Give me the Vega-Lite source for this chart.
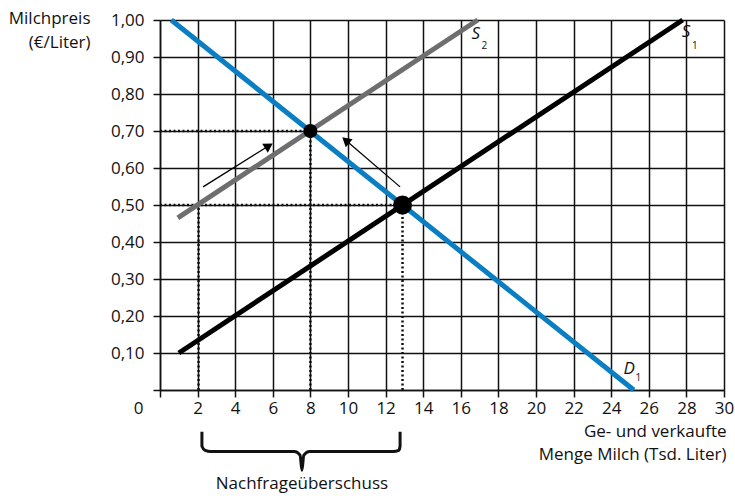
{
  "$schema": "https://vega.github.io/schema/vega-lite/v6.json",
  "width": 564,
  "height": 370,
  "autosize": {"type": "none"},
  "padding": {"left": 160, "top": 20, "right": 11, "bottom": 106},
  "background": "white",
  "config": {
    "view": {"stroke": null},
    "font": "Open Sans",
    "axis": {
      "grid": true,
      "gridColor": "#111111",
      "gridWidth": 1.5,
      "gridOpacity": 1,
      "domainColor": "#111111",
      "domainWidth": 1.5,
      "tickColor": "#111111",
      "tickWidth": 1.5,
      "tickSize": 7,
      "labelFont": "Open Sans",
      "labelFontSize": 17,
      "labelColor": "#111111",
      "titleFont": "Open Sans",
      "titleFontSize": 17,
      "titleFontWeight": "normal",
      "titleColor": "#111111"
    }
  },
  "datasets": {
    "curves": [
      {"s": "D1", "q": 0.6, "p": 1.0},
      {"s": "D1", "q": 25.2, "p": 0.0},
      {"s": "S1", "q": 1.0, "p": 0.1},
      {"s": "S1", "q": 27.8, "p": 1.0},
      {"s": "S2", "q": 0.95, "p": 0.465},
      {"s": "S2", "q": 16.9, "p": 1.0}
    ],
    "dots": [
      {"seg": "h70", "q": 0, "p": 0.7},
      {"seg": "h70", "q": 8, "p": 0.7},
      {"seg": "h50", "q": 0, "p": 0.5},
      {"seg": "h50", "q": 12.9, "p": 0.5},
      {"seg": "v2", "q": 2.05, "p": 0},
      {"seg": "v2", "q": 2.05, "p": 0.5},
      {"seg": "v8", "q": 8, "p": 0},
      {"seg": "v8", "q": 8, "p": 0.7},
      {"seg": "v13", "q": 12.9, "p": 0},
      {"seg": "v13", "q": 12.9, "p": 0.5}
    ],
    "arrows": [
      {"a": "A1", "q": 2.29, "p": 0.549},
      {"a": "A1", "q": 5.79, "p": 0.66},
      {"a": "A2", "q": 12.77, "p": 0.549},
      {"a": "A2", "q": 9.88, "p": 0.675}
    ],
    "eq": [
      {"e": "E1", "q": 12.9, "p": 0.5},
      {"e": "E2", "q": 8, "p": 0.7}
    ],
    "brace": [
      {"o": 1, "q": 2.23, "p": -0.113},
      {"o": 2, "q": 2.23, "p": -0.152},
      {"o": 3, "q": 2.4, "p": -0.163},
      {"o": 4, "q": 2.7, "p": -0.166},
      {"o": 5, "q": 7.15, "p": -0.166},
      {"o": 6, "q": 7.45, "p": -0.176},
      {"o": 7, "q": 7.55, "p": -0.217},
      {"o": 8, "q": 7.65, "p": -0.176},
      {"o": 9, "q": 7.95, "p": -0.166},
      {"o": 10, "q": 12.4, "p": -0.166},
      {"o": 11, "q": 12.7, "p": -0.163},
      {"o": 12, "q": 12.77, "p": -0.152},
      {"o": 13, "q": 12.77, "p": -0.113}
    ],
    "big": [
      {"t": "S", "q": 16.8, "p": 0.962},
      {"t": "S", "q": 27.98, "p": 0.967},
      {"t": "D", "q": 24.95, "p": 0.057}
    ],
    "small": [
      {"t": "2", "q": 17.25, "p": 0.93},
      {"t": "1", "q": 28.45, "p": 0.93},
      {"t": "1", "q": 25.45, "p": 0.032}
    ],
    "note": [
      {"t": "Nachfrageüberschuss", "q": 7.55, "p": -0.255}
    ]
  },
  "encoding": {
    "x": {
      "field": "q",
      "type": "quantitative",
      "scale": {"domain": [0, 30], "nice": false, "zero": false},
      "axis": {
        "values": [0, 2, 4, 6, 8, 10, 12, 14, 16, 18, 20, 22, 24, 26, 28, 30],
        "labelPadding": 3,
        "labelOffset": {"condition": {"test": "datum.value == 0", "value": -22}, "value": 0},
        "labelFlush": false,
        "labelOverlap": false,
        "title": ["Ge- und verkaufte", "Menge Milch (Tsd. Liter)"],
        "titleX": 566,
        "titleY": 33,
        "titleAlign": "right",
        "titleBaseline": "top",
        "titleLineHeight": 23
      }
    },
    "y": {
      "field": "p",
      "type": "quantitative",
      "scale": {"domain": [0, 1], "nice": false, "zero": false},
      "axis": {
        "values": [0, 0.1, 0.2, 0.3, 0.4, 0.5, 0.6, 0.7, 0.8, 0.9, 1.0],
        "labelExpr": "datum.value == 0 ? '' : replace(format(datum.value, '.2f'), '.', ',')",
        "labelPadding": 9,
        "labelFlush": false,
        "labelOverlap": false,
        "title": ["Milchpreis", "(€/Liter)"],
        "titleAngle": 0,
        "titleX": -70,
        "titleY": -10,
        "titleAlign": "right",
        "titleBaseline": "top",
        "titleLineHeight": 24
      }
    }
  },
  "layer": [
    {
      "data": {"name": "dots"},
      "mark": {"type": "line", "color": "#111111", "strokeWidth": 2.5, "strokeDash": [2, 2.5]},
      "encoding": {"detail": {"field": "seg"}}
    },
    {
      "data": {"name": "curves"},
      "mark": {"type": "line", "strokeWidth": 5, "strokeCap": "butt"},
      "encoding": {
        "color": {
          "field": "s",
          "type": "nominal",
          "scale": {"domain": ["S1", "S2", "D1"], "range": ["#000000", "#6e6e6e", "#0a7ec2"]},
          "legend": null
        }
      }
    },
    {
      "data": {"name": "arrows"},
      "mark": {"type": "line", "color": "#000000", "strokeWidth": 1.3},
      "encoding": {"detail": {"field": "a"}}
    },
    {
      "data": {"values": [{"q": 5.79, "p": 0.66}]},
      "mark": {"type": "point", "shape": "triangle-up", "filled": true, "color": "#000000", "opacity": 1, "size": 110, "angle": 58}
    },
    {
      "data": {"values": [{"q": 9.88, "p": 0.675}]},
      "mark": {"type": "point", "shape": "triangle-up", "filled": true, "color": "#000000", "opacity": 1, "size": 110, "angle": 311}
    },
    {
      "data": {"name": "eq"},
      "mark": {"type": "point", "shape": "circle", "filled": true, "color": "#000000", "opacity": 1},
      "encoding": {
        "size": {"field": "e", "type": "nominal", "scale": {"domain": ["E1", "E2"], "range": [360, 200]}, "legend": null}
      }
    },
    {
      "data": {"name": "brace"},
      "mark": {"type": "line", "color": "#111111", "strokeWidth": 3, "strokeJoin": "round", "interpolate": "monotone"},
      "encoding": {"order": {"field": "o", "type": "quantitative"}}
    },
    {
      "data": {"name": "big"},
      "mark": {"type": "text", "font": "Open Sans", "fontSize": 17, "fontStyle": "italic", "color": "#111111", "align": "center", "baseline": "middle"},
      "encoding": {"text": {"field": "t"}}
    },
    {
      "data": {"name": "small"},
      "mark": {"type": "text", "font": "Open Sans", "fontSize": 10, "color": "#111111", "align": "center", "baseline": "middle"},
      "encoding": {"text": {"field": "t"}}
    },
    {
      "data": {"name": "note"},
      "mark": {"type": "text", "font": "Open Sans", "fontSize": 17, "color": "#111111", "align": "center", "baseline": "middle"},
      "encoding": {"text": {"field": "t"}}
    }
  ]
}
